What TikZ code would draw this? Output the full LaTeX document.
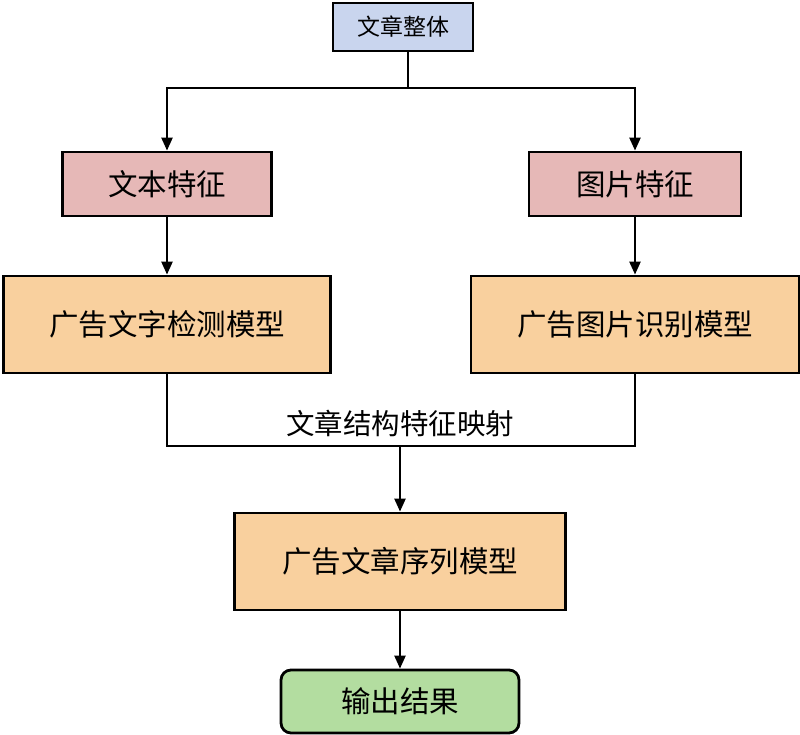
\documentclass[tikz,border=0pt]{standalone}
\usepackage{fontspec}
\newfontfamily\cjk{Noto Sans CJK SC}
\usetikzlibrary{arrows.meta}
\definecolor{topblue}{HTML}{C9D5EE}
\definecolor{featpink}{HTML}{E6B8B7}
\definecolor{modelorange}{HTML}{F9D09E}
\definecolor{outgreen}{HTML}{B3DDA0}
\begin{document}
\begin{tikzpicture}[x=1pt,y=-1pt,
  box/.style={draw=black,line width=2.8pt,inner sep=0pt,font=\cjk\fontsize{29.5}{32}\selectfont},
  conn/.style={line width=2.4pt,draw=black},
  arr/.style={conn,-{Triangle[length=13pt,width=11pt]}}]
\useasboundingbox (0,0) rectangle (800,735);
\node[box,fill=topblue,minimum width=140pt,minimum height=48pt,font=\cjk\fontsize{23}{26}\selectfont] (top) at (403,27) {文章整体};
\node[box,fill=featpink,minimum width=209pt,minimum height=64pt] (tf) at (167,184) {文本特征};
\node[box,fill=featpink,minimum width=212pt,minimum height=64pt] (imf) at (635,184) {图片特征};
\node[box,fill=modelorange,minimum width=327pt,minimum height=97pt] (tm) at (167,324.5) {广告文字检测模型};
\node[box,fill=modelorange,minimum width=328pt,minimum height=97pt] (im) at (635,324.5) {广告图片识别模型};
\node[box,fill=modelorange,minimum width=331pt,minimum height=97pt] (sm) at (400,561.5) {广告文章序列模型};
\node[box,fill=outgreen,rounded corners=10pt,minimum width=238pt,minimum height=63pt] (out) at (400,701.5) {输出结果};
\coordinate (split) at (408,88);
\coordinate (join) at (400,446);
\draw[conn] (top.south -| split) -- (split);
\draw[arr] (split) -| (tf.north);
\draw[arr] (split) -| (imf.north);
\draw[arr] (tf) -- (tm);
\draw[arr] (imf) -- (im);
\draw[conn] (tm.south) |- (join);
\draw[conn] (im.south) |- (join);
\draw[arr] (join) -- (sm.north);
\draw[arr] (sm) -- (out);
\node[font=\cjk\fontsize{28.5}{31}\selectfont,inner sep=0pt] (lbl) at (400,424) {文章结构特征映射};
\end{tikzpicture}
\end{document}
